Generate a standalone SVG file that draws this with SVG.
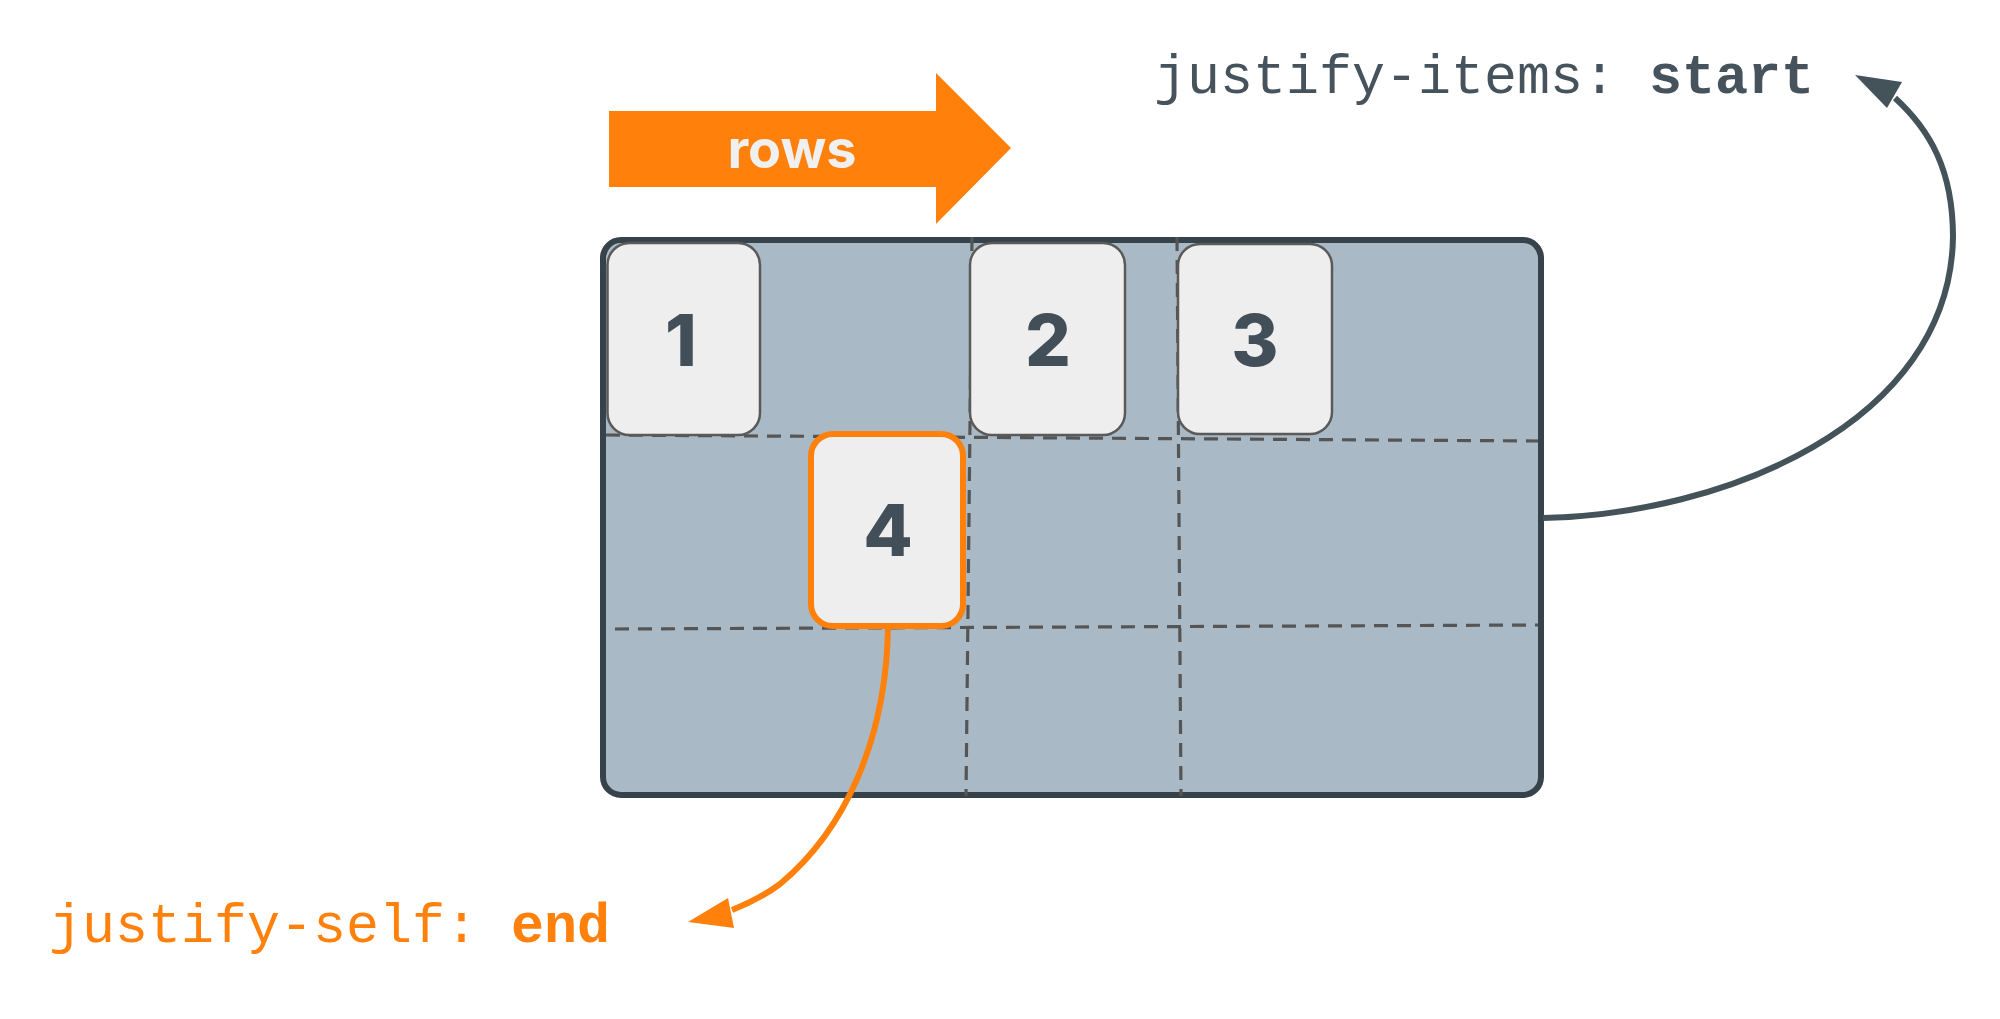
<svg xmlns="http://www.w3.org/2000/svg" width="2000" height="1019" viewBox="0 0 2000 1019">
<style>
.item{fill:#eeeeee;stroke:#5a5a5a;stroke-width:2.5}
.num{font-family:Inter,"Open Sans",sans-serif;font-weight:800;font-size:72px;fill:#434f58;text-anchor:middle}
.grid{stroke:#555555;stroke-width:3.2;stroke-dasharray:14 9;fill:none}
.code{font-family:"Liberation Mono","DejaVu Sans Mono",monospace;font-size:55px}
</style>
<rect width="2000" height="1019" fill="#ffffff"/>
<g id="rows-arrow">
<polygon points="609,111 936,111 936,73 1011,148 936,224 936,187 609,187" fill="#ff800b"/>
<text x="792" y="168" font-family="Inter,'Open Sans',sans-serif" font-weight="700" font-size="54" fill="#f0f0f0" text-anchor="middle">rows</text>
</g>
<g id="container">
<rect x="603" y="240" width="938" height="555" rx="18" fill="#a9bac6" stroke="#37434b" stroke-width="6"/>
<line class="grid" x1="606" y1="435" x2="1538" y2="441"/>
<line class="grid" x1="615" y1="629" x2="1538" y2="625"/>
<line class="grid" x1="972" y1="237" x2="966" y2="796"/>
<line class="grid" x1="1177" y1="237" x2="1181" y2="796"/>
</g>
<g id="item1">
<rect class="item" x="607.5" y="243" width="152.5" height="192" rx="22"/>
<text class="num" x="681" y="366">1</text>
</g>
<g id="item2">
<rect class="item" x="970" y="243" width="155" height="192" rx="22"/>
<text class="num" x="1048" y="366">2</text>
</g>
<g id="item3">
<rect class="item" x="1178" y="244" width="154" height="190" rx="22"/>
<text class="num" x="1255" y="366">3</text>
</g>
<g id="item4">
<rect x="811" y="434" width="152" height="192" rx="22" fill="#eeeeee" stroke="#ff800b" stroke-width="6"/>
<text class="num" x="888" y="556">4</text>
</g>
<g id="connectors">
<path d="M1543,518 C1720,515 1950,425 1953,237 C1953,170 1930,130 1895,98" fill="none" stroke="#44525a" stroke-width="6"/>
<polygon points="1855,75 1902,82 1887,108" fill="#44525a"/>
<path d="M888,628 C886,740 845,830 780,884 Q760,899 732,910" fill="none" stroke="#ff800b" stroke-width="6"/>
<polygon points="688,922 728,898 734,928" fill="#ff800b"/>
</g>
<g id="label-items">
<text class="code" x="1154" y="93" fill="#46535c">justify-items: <tspan font-weight="700">start</tspan></text>
</g>
<g id="label-self">
<text class="code" x="49" y="942" fill="#ff800b">justify-self: <tspan font-weight="700">end</tspan></text>
</g>
</svg>
